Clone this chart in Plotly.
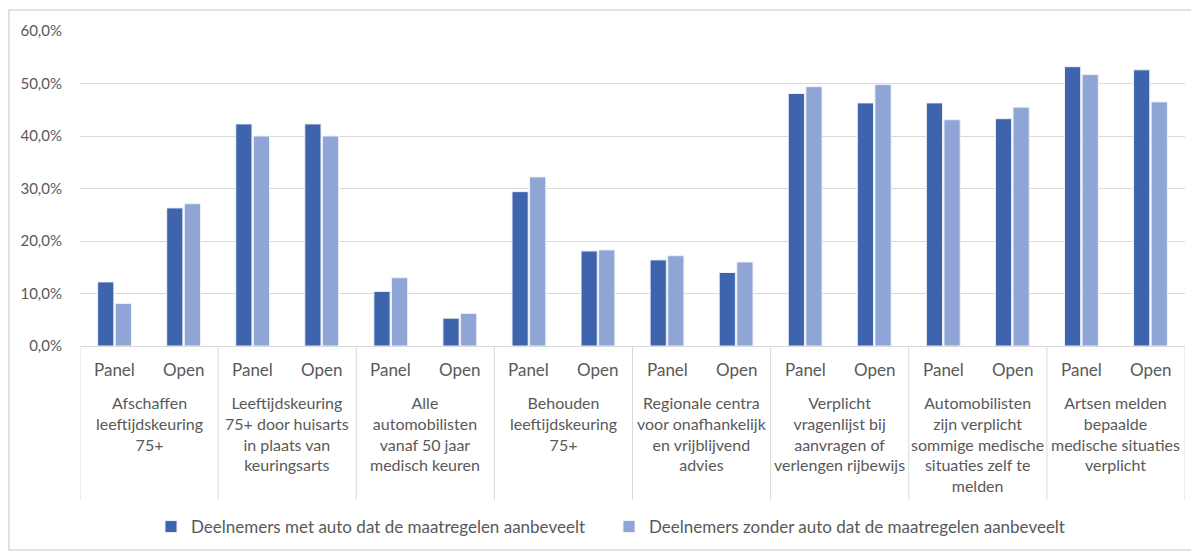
import plotly.graph_objects as go

groups = [
    "Afschaffen<br>leeftijdskeuring<br>75+",
    "Leeftijdskeuring<br>75+ door huisarts<br>in plaats van<br>keuringsarts",
    "Alle<br>automobilisten<br>vanaf 50 jaar<br>medisch keuren",
    "Behouden<br>leeftijdskeuring<br>75+",
    "Regionale centra<br>voor onafhankelijk<br>en vrijblijvend<br>advies",
    "Verplicht<br>vragenlijst bij<br>aanvragen of<br>verlengen rijbewijs",
    "Automobilisten<br>zijn verplicht<br>sommige medische<br>situaties zelf te<br>melden",
    "Artsen melden<br>bepaalde<br>medische situaties<br>verplicht",
]
subcats = ["Panel", "Open"]

met_auto = [12.2, 26.3, 42.3, 42.3, 10.4, 5.3, 29.4, 18.1,
            16.4, 14.0, 48.1, 46.3, 46.3, 43.3, 53.2, 52.6]
zonder_auto = [8.1, 27.1, 40.0, 40.0, 13.0, 6.2, 32.2, 18.3,
               17.2, 16.0, 49.4, 49.8, 43.1, 45.5, 51.7, 46.5]

series_names = ["Deelnemers met auto dat de maatregelen aanbeveelt",
                "Deelnemers zonder auto dat de maatregelen aanbeveelt"]
colors = ["#3d64ad", "#8fa5d5"]
legend_ids = ["legend", "legend2"]

n_sub = len(subcats)
n_cat = len(groups) * n_sub
xpos = list(range(n_cat))

fig = go.Figure()
for name, vals, col, lg in zip(series_names, [met_auto, zonder_auto], colors, legend_ids):
    fig.add_trace(go.Bar(x=xpos, y=vals, name=name, marker_color=col,
                         marker_line_color="#eef1f8", marker_line_width=1,
                         legend=lg))

font_family = "Lato, 'Liberation Sans', sans-serif"
txt_col = "#595959"
grid_col = "#d9d9d9"

# figure is drawn inside the page's default 8px body margin
W, H = 1191, 544
L, R, T, B = 72, 14, 23, 206
plot_w = W - L - R
plot_h = H - T - B

annotations = []
for i in range(n_cat):
    annotations.append(dict(x=i, y=0, xref="x", yref="y", yanchor="top",
                            yshift=-11, text=subcats[i % n_sub], showarrow=False,
                            font=dict(size=17, color=txt_col)))
for g, label in enumerate(groups):
    annotations.append(dict(x=g * n_sub + (n_sub - 1) / 2, y=0, xref="x", yref="y",
                            yanchor="top", yshift=-45, text=label, showarrow=False,
                            align="center",
                            font=dict(size=16, color=txt_col)))

shapes = []
for g in range(len(groups) + 1):
    xb = g * n_sub - 0.5
    shapes.append(dict(type="line", xref="x", yref="paper", x0=xb, x1=xb,
                       y0=0, y1=-154 / plot_h,
                       line=dict(color=grid_col, width=1)))
shapes.append(dict(type="rect", xref="paper", yref="paper",
                   x0=(1 - L) / plot_w, x1=(1188 - L) / plot_w,
                   y0=-(H - 2 - (H - B)) / plot_h, y1=(H - B - 2) / plot_h,
                   line=dict(color=grid_col, width=1.5)))

legend_common = dict(orientation="h", xref="paper", xanchor="left",
                     yref="container", y=1 - 519 / H, yanchor="middle",
                     font=dict(size=17, color=txt_col), itemwidth=30,
                     bgcolor="rgba(0,0,0,0)")

fig.update_layout(
    width=W, height=H,
    margin=dict(l=L, r=R, t=T, b=B, autoexpand=False),
    plot_bgcolor="white", paper_bgcolor="white",
    barmode="group", bargap=0.49, bargroupgap=0.08,
    separators=",.",
    font=dict(family=font_family, size=15, color=txt_col),
    showlegend=True,
    legend=dict(x=(143 - L) / plot_w, **legend_common),
    legend2=dict(x=(601 - L) / plot_w, **legend_common),
    yaxis=dict(range=[0, 60], dtick=10, tickformat=".1f", ticksuffix="%",
               showgrid=True, gridcolor=grid_col, gridwidth=1,
               zeroline=False, showline=False, ticks="", ticklabelstandoff=17,
               tickfont=dict(size=15, color=txt_col)),
    xaxis=dict(range=[-0.5, n_cat - 0.5], showticklabels=False, showgrid=False,
               zeroline=False, showline=True, linecolor=grid_col, linewidth=1,
               ticks=""),
    annotations=annotations,
    shapes=shapes,
)

fig.write_html("out.html")
